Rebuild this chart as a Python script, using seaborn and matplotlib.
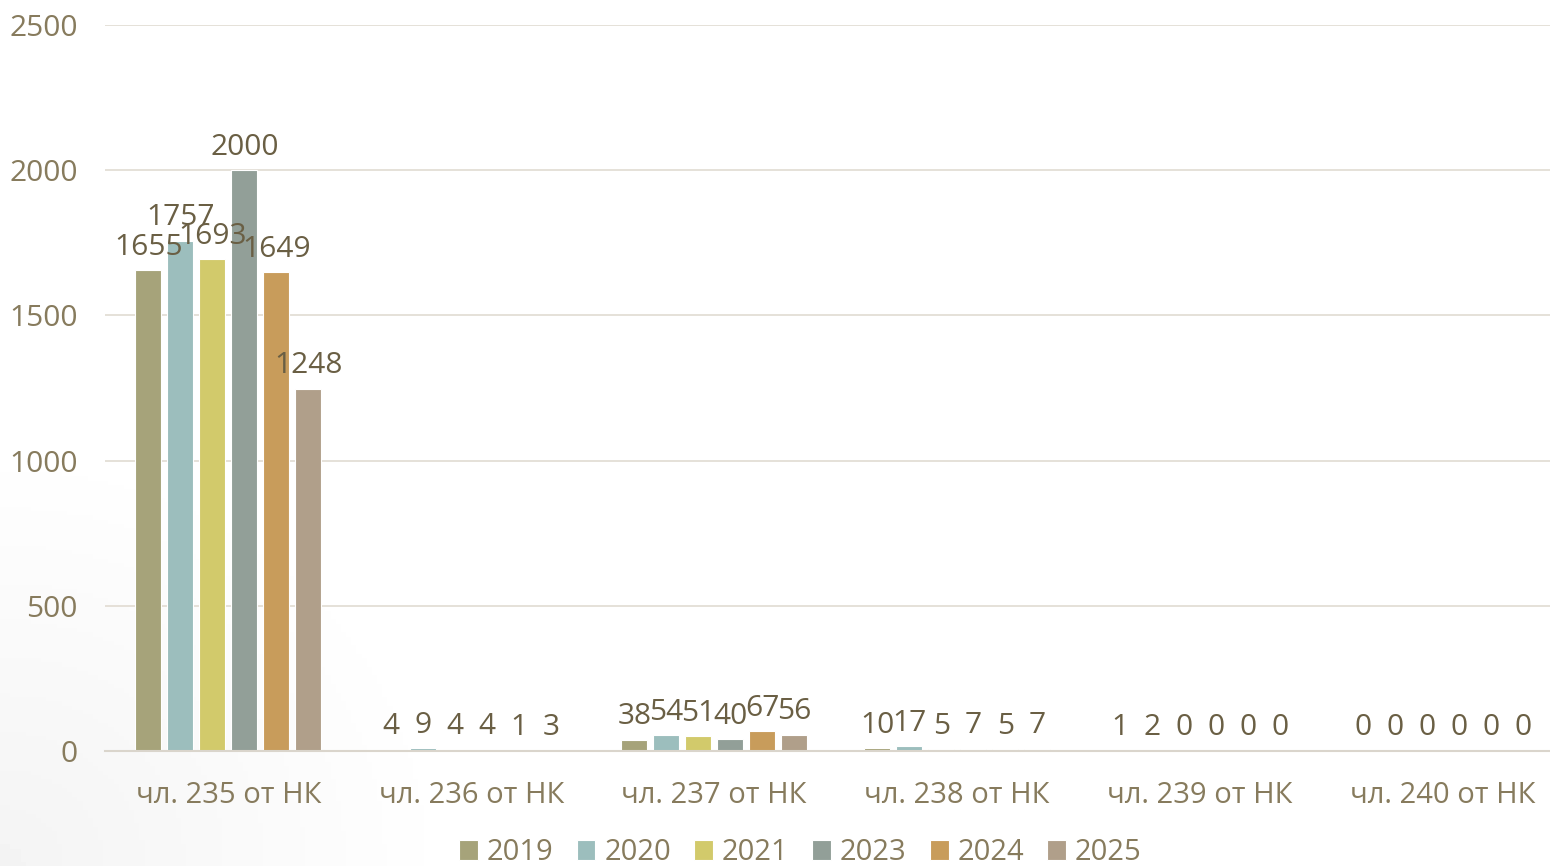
import matplotlib
matplotlib.use("Agg")
import matplotlib.pyplot as plt
import numpy as np
import pandas as pd
import seaborn as sns

categories = ["чл. 235 от НК", "чл. 236 от НК", "чл. 237 от НК",
              "чл. 238 от НК", "чл. 239 от НК", "чл. 240 от НК"]
years = ["2019", "2020", "2021", "2023", "2024", "2025"]
v2019 = [1655, 4, 38, 10, 1, 0]
v2020 = [1757, 9, 54, 17, 2, 0]
v2021 = [1693, 4, 51, 5, 0, 0]
v2023 = [2000, 4, 40, 7, 0, 0]
v2024 = [1649, 1, 67, 5, 0, 0]
v2025 = [1248, 3, 56, 7, 0, 0]
colors = ["#A6A37A", "#9CBEBD", "#D2CA6B", "#929F98", "#C89C5B", "#B09F8A"]

series = [v2019, v2020, v2021, v2023, v2024, v2025]
df = pd.DataFrame(
    [(c, y, v) for y, vals in zip(years, series) for c, v in zip(categories, vals)],
    columns=["cat", "year", "value"],
)

sns.set_theme(style="white")
plt.rcParams["font.family"] = ["Open Sans", "DejaVu Sans"]

label_color = "#6A5F44"
tick_color = "#877B5D"
grid_color = "#E3DED5"
fs = 21

fig = plt.figure(figsize=(15.5, 8.66), dpi=100)

# faint shadow in the lower-left corner
bg = fig.add_axes([0, 0, 1, 1], zorder=-10)
gx, gy = np.meshgrid(np.linspace(0, 1, 300), np.linspace(0, 1, 200))
dist = np.sqrt((gx / 0.3) ** 2 + (gy / 0.5) ** 2)
shade = 1 - 0.045 * np.clip(1 - dist, 0, 1)
bg.imshow(shade, cmap="gray", vmin=0, vmax=1, origin="lower", aspect="auto",
          extent=[0, 1, 0, 1])
bg.axis("off")

ax = fig.add_axes([0.068, 0.133, 0.932, 0.838])
ax.patch.set_alpha(0)

sns.barplot(data=df, x="cat", y="value", hue="year", palette=colors,
            saturation=1, width=0.79, gap=0.18, edgecolor="white",
            linewidth=0.8, ax=ax, legend=True)

for cont in ax.containers:
    ax.bar_label(cont, labels=[f"{int(b.get_height())}" for b in cont],
                 padding=6, fontsize=21.5, color=label_color)

ax.set_ylim(0, 2500)
ax.set_yticks(range(0, 2501, 500))
ax.set_xlim(-0.506, 5.44)
ax.yaxis.grid(True, color=grid_color, linewidth=1.3)
ax.set_axisbelow(True)
for s in ["top", "right", "left"]:
    ax.spines[s].set_visible(False)
ax.spines["bottom"].set_color("#DAD5CC")
ax.spines["bottom"].set_linewidth(1.5)
ax.tick_params(axis="y", length=0, labelsize=21.5, colors=tick_color, pad=20)
ax.tick_params(axis="x", length=0, labelsize=fs, colors=tick_color, pad=22)
ax.set_xlabel("")
ax.set_ylabel("")

handles, labels = ax.get_legend_handles_labels()
ax.legend(handles, labels, loc="upper center", bbox_to_anchor=(0.481, -0.084),
          ncol=6, frameon=False, fontsize=fs, handlelength=0.65,
          handleheight=0.65, handletextpad=0.3, columnspacing=0.8,
          labelcolor=tick_color)

fig.savefig("out.png", dpi=100)
